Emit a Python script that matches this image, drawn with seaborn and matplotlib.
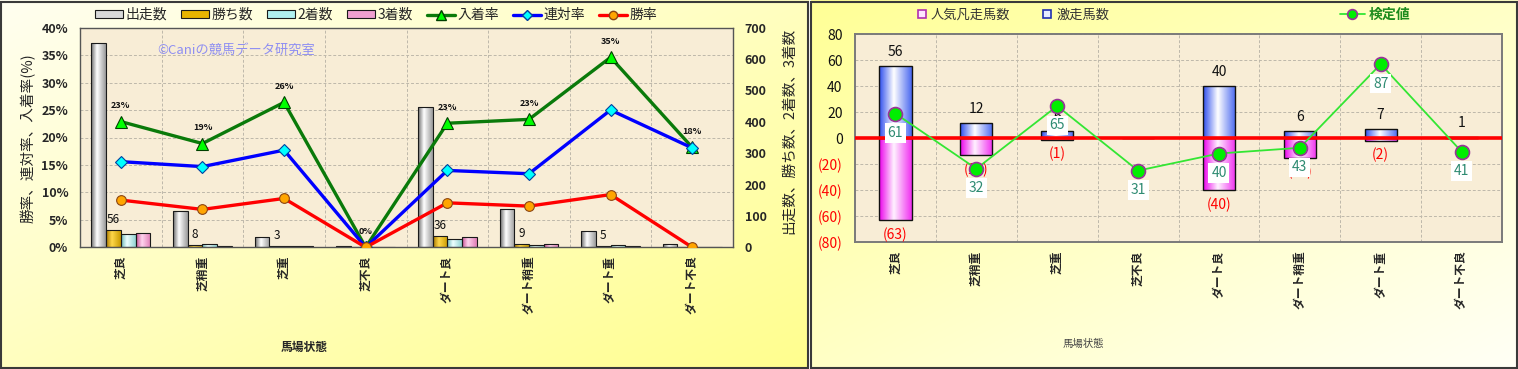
import numpy as np
import pandas as pd
import matplotlib
matplotlib.use('Agg')
import matplotlib.pyplot as plt
import seaborn as sns
from matplotlib.colors import LinearSegmentedColormap, to_rgb
from matplotlib.patches import Rectangle, Patch
from matplotlib.lines import Line2D
from matplotlib.ticker import FixedLocator

sns.set_style('white')
plt.rcParams['font.family'] = ['Noto Sans CJK JP', 'DejaVu Sans']

# ---------------- data ----------------
categories = ['芝良', '芝稍重', '芝重', '芝不良', 'ダート良', 'ダート稍重', 'ダート重', 'ダート不良']
bar_series = ['出走数', '勝ち数', '2着数', '3着数']
starters = [652, 117, 34, 4, 446, 121, 51, 11]
wins = [56, 8, 3, 0, 36, 9, 5, 0]
seconds = [43, 9, 3, 0, 26, 7, 8, 2]
thirds = [45, 5, 3, 0, 33, 12, 5, 0]
place_rate = [22.9, 18.9, 26.4, 0.0, 22.6, 23.3, 34.6, 18.2]    # 入着率
rentai_rate = [15.6, 14.7, 17.7, 0.0, 14.0, 13.4, 25.0, 18.1]   # 連対率
win_rate = [8.6, 6.9, 8.9, 0.0, 8.1, 7.5, 9.6, 0.0]             # 勝率

gekiso = [56, 12, 6, 0, 40, 6, 7, 1]        # 激走馬数
bonso = [63, 13, 1, 0, 40, 15, 2, 0]        # 人気凡走馬数
kentei = [61, 32, 65, 31, 40, 43, 87, 41]   # 検定値

W, H = 1518, 369
fig = plt.figure(figsize=(W / 100, H / 100), dpi=100)
fig.patch.set_facecolor('white')


def px(x0, y0, x1, y1):
    return [x0 / W, 1 - y1 / H, (x1 - x0) / W, (y1 - y0) / H]


def panel_bg(rect, c0, c1):
    bax = fig.add_axes(rect, zorder=-10)
    n = 200
    xx, yy = np.meshgrid(np.linspace(0, 1, n), np.linspace(0, 1, n))
    t = ((xx + yy) / 2)[..., None]
    a, b = np.array(to_rgb(c0)), np.array(to_rgb(c1))
    img = a * (1 - t) + b * t
    bax.imshow(img, extent=[0, 1, 0, 1], aspect='auto', origin='upper')
    bax.set_axis_off()


panel_bg(px(0, 0, 809, 369), '#FFFEF0', '#FFFF8E')
panel_bg(px(811, 0, 1518, 369), '#FFFF96', '#FFFFF6')
for (x0, x1) in [(1, 808), (811, 1517)]:
    fig.patches.append(Rectangle((x0 / W, 1 / H), (x1 - x0) / W, (H - 3) / H,
                                 transform=fig.transFigure, fill=False,
                                 ec='#3A3A3A', lw=1.5, zorder=20))


def shade(ax, container, stops):
    cmap = LinearSegmentedColormap.from_list('', stops)
    grad = np.linspace(0, 1, 100)[None, :]
    for bar in container:
        h = bar.get_height()
        if h == 0:
            continue
        x0, w, y0 = bar.get_x(), bar.get_width(), bar.get_y()
        lo, hi = sorted([y0, y0 + h])
        im = ax.imshow(grad, cmap=cmap, extent=[x0, x0 + w, lo, hi], aspect='auto',
                       origin='lower', zorder=bar.get_zorder() - 0.05,
                       interpolation='bilinear')
        im.set_clip_path(bar)
        bar.set_facecolor('none')


grid_kw = dict(color='#BEB8AA', ls=(0, (3, 2)), lw=0.7)
plot_bg = '#F8EDD6'
pos = np.arange(len(categories))

# ================= LEFT CHART =================
axL = fig.add_axes(px(80, 27.7, 733, 247.3))
axL.set_facecolor(plot_bg)
df_counts = pd.DataFrame({
    '馬場状態': categories * 4,
    '系列': sum([[s] * len(categories) for s in bar_series], []),
    '数': starters + wins + seconds + thirds,
})
sns.barplot(data=df_counts, x='馬場状態', y='数', hue='系列', order=categories,
            hue_order=bar_series, palette=['#D8D8D8', '#E8B400', '#B0F0F0', '#F0A0D0'],
            width=0.72, gap=0, edgecolor='#1A1A1A', linewidth=0.8, errorbar=None,
            legend=False, saturation=1, ax=axL)
stops_left = [
    [(0, '#6A6A6A'), (0.4, '#FFFFFF'), (1, '#9A9A9A')],
    [(0, '#A87800'), (0.4, '#FFD84A'), (1, '#C99A00')],
    [(0, '#6AB8B8'), (0.4, '#EEFFFF'), (1, '#90D2D2')],
    [(0, '#C85096'), (0.4, '#FFD4EE'), (1, '#E07CB6')],
]
for cont, st in zip(axL.containers, stops_left):
    shade(axL, cont, st)

axP = axL.twinx()
axL.yaxis.tick_right()
axP.yaxis.tick_left()

axL.set_xlim(-0.5, len(categories) - 0.5)
axL.set_ylim(0, 700)
axL.set_yticks(range(0, 701, 100))
axL.set_yticklabels([str(v) for v in range(0, 701, 100)], fontsize=9, fontweight='bold')
axL.set_xlabel('')
axL.set_ylabel('')
axL.set_axisbelow(True)
axL.yaxis.set_minor_locator(FixedLocator(np.linspace(0, 700, 9)))
axL.xaxis.set_minor_locator(FixedLocator(np.arange(0.5, len(categories) - 0.5, 1)))
axL.grid(False)
axL.grid(which='minor', axis='both', **grid_kw)
axL.tick_params(which='minor', length=0)
axL.tick_params(axis='y', which='major', length=0, pad=8.5)
axL.tick_params(axis='x', which='major', length=0, pad=6)
axL.set_xticks(pos)
axL.set_xticklabels(categories, rotation=90, fontsize=8.5, fontweight='bold', va='top')
for sp in axL.spines.values():
    sp.set_color('#555555')
    sp.set_linewidth(1.0)

# win count labels
for bar, v in zip(axL.containers[1], wins):
    if v > 0:
        axL.annotate(f'{v}', (bar.get_x() + bar.get_width() / 2, bar.get_height()),
                     xytext=(0, 3), textcoords='offset points', ha='center', va='bottom',
                     fontsize=8.5, color='#111111')

sns.lineplot(x=pos, y=place_rate, ax=axP, color='#0A7A0A', lw=2.4, marker='^',
             markersize=9, markerfacecolor='#00FF00', markeredgecolor='#004000',
             markeredgewidth=0.8)
sns.lineplot(x=pos, y=rentai_rate, ax=axP, color='#0000FF', lw=2.4, marker='D',
             markersize=6, markerfacecolor='#00FFFF', markeredgecolor='#0040A0',
             markeredgewidth=0.8)
sns.lineplot(x=pos, y=win_rate, ax=axP, color='#FF0000', lw=2.4, marker='o',
             markersize=7, markerfacecolor='#FFA500', markeredgecolor='#8B4513',
             markeredgewidth=0.8)
axP.set_ylim(0, 40)
axP.set_yticks(range(0, 41, 5))
axP.set_yticklabels([f'{v}%' for v in range(0, 41, 5)], fontsize=9, fontweight='bold')
axP.tick_params(axis='y', length=0, pad=8.5)
axP.set_ylabel('')
axP.grid(False)
for sp in axP.spines.values():
    sp.set_visible(False)
for x, v in zip(pos, place_rate):
    axP.annotate(f'{v:.0f}%', (x, v), xytext=(0, 8), textcoords='offset points',
                 ha='center', va='bottom', fontsize=6.5, fontweight='bold', color='#111111',
                 annotation_clip=False)

axL.text(0.118, 0.898, '©Caniの競馬データ研究室', transform=axL.transAxes,
         fontsize=9.5, color='#8E8EF2', ha='left', va='center')

fig.text(28 / W, 1 - 138 / H, '勝率、連対率、入着率(%)', rotation=90, ha='center',
         va='center', fontsize=10.5)
fig.text(789 / W, 1 - 131 / H, '出走数、勝ち数、2着数、3着数', rotation=90, ha='center',
         va='center', fontsize=10.5)
fig.text(304 / W, 1 - 347 / H, '馬場状態', ha='center', va='center', fontsize=8.5,
         fontweight='bold')

handlesL = [
    Patch(facecolor='#D8D8D8', edgecolor='#1A1A1A', lw=0.8),
    Patch(facecolor='#E8B400', edgecolor='#1A1A1A', lw=0.8),
    Patch(facecolor='#B0F0F0', edgecolor='#1A1A1A', lw=0.8),
    Patch(facecolor='#F0A0D0', edgecolor='#1A1A1A', lw=0.8),
    Line2D([], [], color='#0A7A0A', lw=2.4, marker='^', ms=7, mfc='#00FF00', mec='#004000'),
    Line2D([], [], color='#0000FF', lw=2.4, marker='D', ms=5, mfc='#00FFFF', mec='#0040A0'),
    Line2D([], [], color='#FF0000', lw=2.4, marker='o', ms=6, mfc='#FFA500', mec='#8B4513'),
]
labelsL = bar_series + ['入着率', '連対率', '勝率']
fig.legend(handlesL, labelsL, loc='center', bbox_to_anchor=(376 / W, 1 - 15 / H), ncol=7,
           frameon=False, fontsize=10, handlelength=2.0, handleheight=0.5,
           handletextpad=0.2, columnspacing=1.0, borderpad=0)

# ================= RIGHT CHART =================
axR = fig.add_axes(px(855, 34.3, 1502, 242.3))
axR.set_facecolor(plot_bg)
df_r = pd.DataFrame({
    '馬場状態': categories * 2,
    '系列': ['激走馬数'] * len(categories) + ['人気凡走馬数'] * len(categories),
    '頭数': gekiso + [-v for v in bonso],
})
sns.barplot(data=df_r, x='馬場状態', y='頭数', hue='系列', order=categories,
            hue_order=['激走馬数', '人気凡走馬数'], dodge=False, width=0.4,
            palette=['#7088FF', '#FF66FF'], edgecolor='#111111', linewidth=1.0,
            errorbar=None, legend=False, saturation=1, ax=axR)
shade(axR, axR.containers[0], [(0, '#2E4EEE'), (0.45, '#FFFFFF'), (1, '#4A68F0')])
shade(axR, axR.containers[1], [(0, '#EC00EC'), (0.45, '#FFF2FF'), (1, '#F030F0')])

axR.set_xlim(-0.5, len(categories) - 0.5)
axR.set_ylim(-80, 80)
yt = list(range(-80, 81, 20))
axR.set_yticks(yt)
axR.set_yticklabels([f'({-v})' if v < 0 else f'{v}' for v in yt], fontsize=10)
for lab, v in zip(axR.get_yticklabels(), yt):
    lab.set_color('#FF0000' if v < 0 else '#111111')
axR.set_xlabel('')
axR.set_ylabel('')
axR.set_axisbelow(True)
axR.grid(False)
axR.grid(which='major', axis='y', **grid_kw)
axR.xaxis.set_minor_locator(FixedLocator(np.arange(0.5, len(categories) - 0.5, 1)))
axR.grid(which='minor', axis='x', **grid_kw)
axR.tick_params(which='minor', length=0)
axR.tick_params(axis='y', length=0, pad=9)
axR.tick_params(axis='x', length=0, pad=6)
axR.set_xticks(pos)
axR.set_xticklabels(categories, rotation=90, fontsize=8.5, fontweight='bold', va='top')
for sp in axR.spines.values():
    sp.set_color('#7A7A7A')
    sp.set_linewidth(1.4)
axR.axhline(0, color='#FF0000', lw=2.6, zorder=3)

for bar, v in zip(axR.containers[0], gekiso):
    if v > 0:
        axR.annotate(f'{v}', (bar.get_x() + bar.get_width() / 2, v), xytext=(0, 5),
                     textcoords='offset points', ha='center', va='bottom', fontsize=10,
                     color='#111111')
for bar, v in zip(axR.containers[1], bonso):
    if v > 0:
        axR.annotate(f'({v})', (bar.get_x() + bar.get_width() / 2, -v), xytext=(0, -5),
                     textcoords='offset points', ha='center', va='top', fontsize=10,
                     color='#FF0000')

axK = axR.twinx()
sns.lineplot(x=pos, y=kentei, ax=axK, color='#33E633', lw=1.3, marker='o', markersize=10,
             markerfacecolor='#00EE00', markeredgecolor='#993399', markeredgewidth=1.2)
axK.set_ylim(-6.7, 102.7)
axK.set_yticks([])
axK.set_ylabel('')
axK.grid(False)
for sp in axK.spines.values():
    sp.set_visible(False)
for x, v in zip(pos, kentei):
    axK.annotate(f'{v}', (x, v), xytext=(0, -9), textcoords='offset points', ha='center',
                 va='top', fontsize=10, color='#2E8B72', zorder=10,
                 bbox=dict(boxstyle='square,pad=0.2', fc='white', ec='none'))

fig.text(1083 / W, 1 - 344 / H, '馬場状態', ha='center', va='center', fontsize=7.5,
         color='#444444')

leg1 = fig.legend([Line2D([], [], ls='none', marker='s', ms=6, mfc='#FFE6FF', mec='#B030B0', mew=1.2),
                   Line2D([], [], ls='none', marker='s', ms=6, mfc='#E6ECFF', mec='#2030B0', mew=1.2)],
                  ['人気凡走馬数', '激走馬数'], loc='center',
                  bbox_to_anchor=(1013 / W, 1 - 15 / H), ncol=2, frameon=False, fontsize=9.5,
                  handlelength=0.8, handletextpad=0.3, columnspacing=2.4, borderpad=0)
for t in leg1.get_texts():
    t.set_color('#333333')
leg2 = fig.legend([Line2D([], [], color='#33E633', lw=1.3, marker='o', ms=7, mfc='#00EE00',
                          mec='#993399', mew=1.2)],
                  ['検定値'], loc='center', bbox_to_anchor=(1375 / W, 1 - 15 / H),
                  frameon=False, fontsize=10, handlelength=1.8, handletextpad=0.3, borderpad=0)
for t in leg2.get_texts():
    t.set_color('#1E8C1E')
    t.set_fontweight('bold')

fig.savefig('out.png', dpi=100, facecolor=fig.get_facecolor())
